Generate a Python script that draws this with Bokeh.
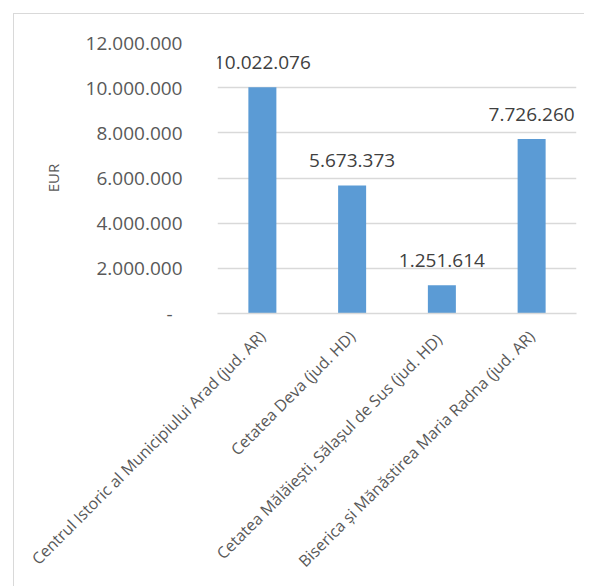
import math
from bokeh.plotting import figure
from bokeh.layouts import column, row
from bokeh.models import ColumnDataSource, FactorRange, Range1d, FixedTicker, Spacer
from bokeh.core.properties import value
from bokeh.embed import file_html
from bokeh.resources import INLINE

categories = [
    "Centrul Istoric al Municipiului Arad (jud. AR)",
    "Cetatea Deva (jud. HD)",
    "Cetatea Mălăiești, Sălașul de Sus  (jud. HD)",
    "Biserica și Mănăstirea Maria Radna (jud. AR)",
]
values = [10022076, 5673373, 1251614, 7726260]
y_ticks = [0, 2000000, 4000000, 6000000, 8000000, 10000000, 12000000]
y_title = "EUR"


def fmt(v):
    return f"{v:,}".replace(",", ".")


tick_labels = {t: (fmt(t) if t else "-\u00a0\u00a0") for t in y_ticks}
labels = [fmt(v) for v in values]

FONT = "Open Sans"
GREY = "#595959"
GRID = "#D9D9D9"

p = figure(
    width=571, height=573,
    x_range=FactorRange(*categories, range_padding=0),
    y_range=Range1d(0, 12000000),
    output_backend="svg", toolbar_location=None,
    min_border_left=203, min_border_right=9, min_border_top=28, min_border_bottom=274,
)
p.styles = {"border-left": "1px solid #D9D9D9", "border-top": "1px solid #D9D9D9"}
p.outline_line_color = None

src = ColumnDataSource(dict(cat=categories, val=values, lab=labels))
p.vbar(x="cat", top="val", width=0.312, source=src, fill_color="#5B9BD5", line_color=None)
p.text(x="cat", y="val", text="lab", source=src, text_align="center", text_baseline="alphabetic",
       y_offset=-25, text_font=value(FONT), text_font_size="19px", text_color="#404040")

p.xgrid.grid_line_color = None
p.ygrid.grid_line_color = GRID
p.ygrid.grid_line_width = 1.3

ya = p.yaxis[0]
ya.ticker = FixedTicker(ticks=y_ticks)
ya.major_label_overrides = tick_labels
ya.axis_line_color = None
ya.major_tick_line_color = None
ya.minor_tick_line_color = None
ya.major_tick_in = 0
ya.major_tick_out = 0
ya.major_label_standoff = 35
ya.major_label_text_font = FONT
ya.major_label_text_font_size = "19px"
ya.major_label_text_color = GREY
ya.axis_label = y_title
ya.axis_label_text_font = FONT
ya.axis_label_text_font_size = "15px"
ya.axis_label_text_font_style = "normal"
ya.axis_label_text_color = GREY
ya.axis_label_standoff = 20

xa = p.xaxis[0]
xa.axis_line_color = GRID
xa.axis_line_width = 1.3
xa.major_tick_line_color = None
xa.minor_tick_line_color = None
xa.major_tick_in = 0
xa.major_tick_out = 0
xa.major_label_orientation = math.pi / 4
xa.major_label_standoff = 20
xa.major_label_text_font = FONT
xa.major_label_text_font_size = "16px"
xa.major_label_text_color = GREY

layout = column(Spacer(height=13, width=585), row(Spacer(width=13, height=574), p))

open("out.html", "w").write(file_html(layout, INLINE))
